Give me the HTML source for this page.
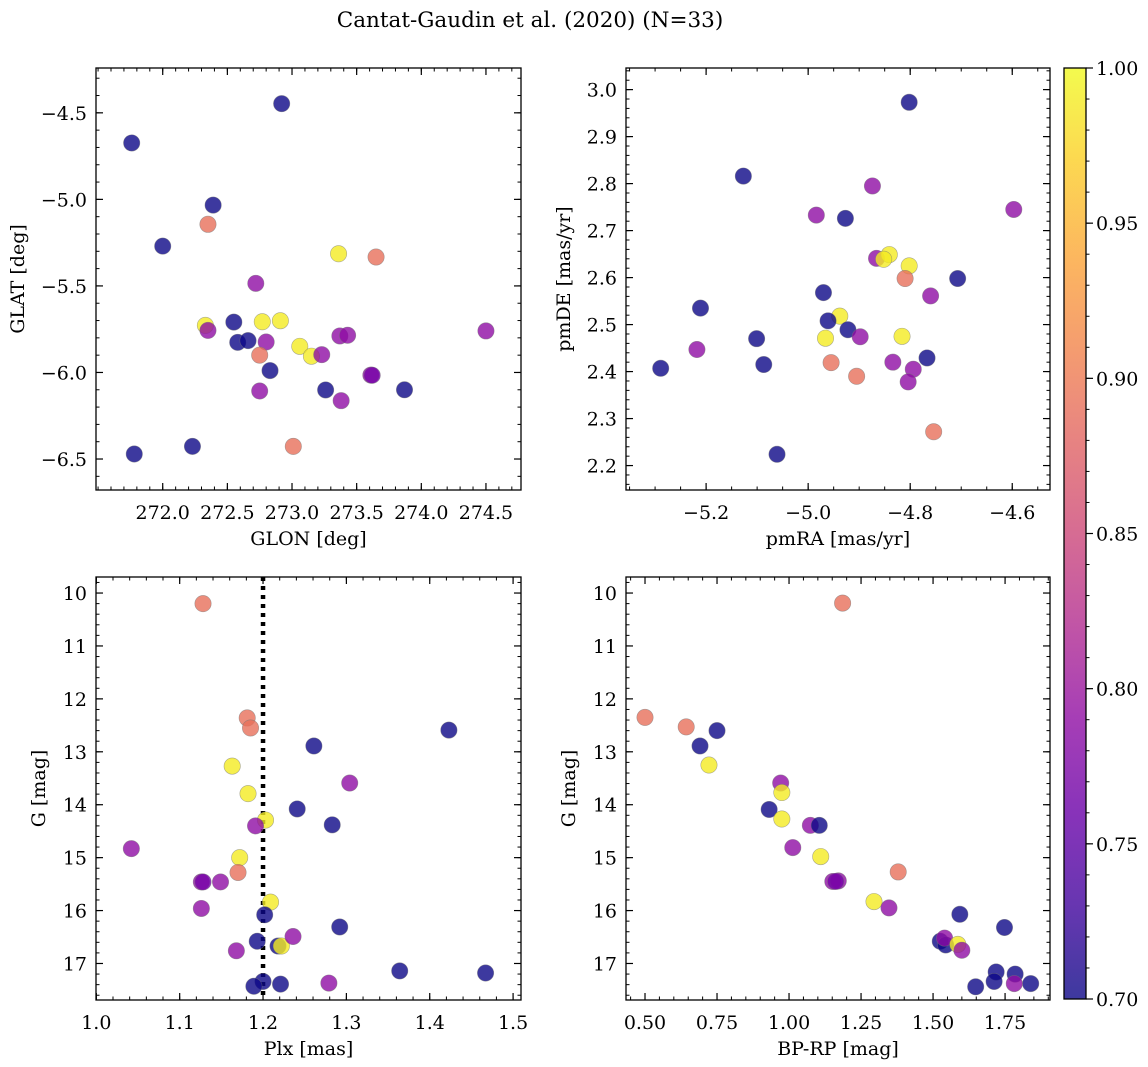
<!DOCTYPE html>
<html><head><meta charset="utf-8"><style>
html,body{margin:0;padding:0;background:#fff;}
svg{display:block;font-family:"DejaVu Serif","Liberation Serif",serif;}
</style></head><body>
<svg id="fig" width="1148" height="1067" viewBox="0 0 1148 1067" xmlns="http://www.w3.org/2000/svg">
<text x="530" y="27" font-size="21.5" text-anchor="middle">Cantat-Gaudin et al. (2020) (N=33)</text>
</svg>
<script>
// ---- Panel 1: GLON / GLAT ----
const glon=[272.92,271.76,272.39,272.35,272.00,273.36,273.65,272.72,272.55,272.77,272.91,272.33,272.35,274.50,273.37,273.43,272.58,272.66,272.80,273.06,273.15,273.23,272.75,272.83,273.61,273.62,273.26,273.87,272.75,273.38,273.01,272.23,271.78];
const glat=[-4.447,-4.674,-5.033,-5.144,-5.270,-5.314,-5.333,-5.485,-5.709,-5.707,-5.701,-5.728,-5.757,-5.760,-5.789,-5.785,-5.826,-5.816,-5.824,-5.849,-5.906,-5.897,-5.900,-5.989,-6.015,-6.016,-6.101,-6.100,-6.107,-6.163,-6.427,-6.427,-6.471];
const c1=[0.70,0.70,0.70,0.89,0.70,0.99,0.89,0.79,0.70,0.99,0.99,0.99,0.79,0.79,0.79,0.79,0.70,0.70,0.79,0.99,0.99,0.79,0.89,0.70,0.79,0.77,0.70,0.70,0.79,0.79,0.89,0.70,0.70];
// ---- Panel 2: pmRA / pmDE ----
const pmra=[-4.802,-5.127,-4.874,-4.597,-4.984,-4.927,-4.866,-4.841,-4.852,-4.802,-4.810,-4.707,-4.760,-4.970,-5.211,-4.938,-4.961,-4.922,-5.101,-4.966,-4.898,-4.816,-5.218,-4.955,-4.834,-5.087,-4.767,-4.794,-5.289,-4.905,-4.804,-4.754,-5.061];
const pmde=[2.973,2.816,2.795,2.745,2.733,2.726,2.641,2.649,2.639,2.625,2.598,2.598,2.561,2.568,2.535,2.518,2.508,2.489,2.470,2.471,2.474,2.475,2.447,2.419,2.420,2.415,2.429,2.405,2.407,2.390,2.378,2.272,2.224];
const c2=[0.70,0.70,0.79,0.79,0.79,0.70,0.79,0.99,0.99,0.99,0.89,0.70,0.79,0.70,0.70,0.99,0.70,0.70,0.70,0.99,0.79,0.99,0.79,0.89,0.79,0.70,0.70,0.79,0.70,0.89,0.79,0.89,0.70];
// ---- Panel 3: Plx / G ----
const plx=[1.128,1.181,1.185,1.163,1.182,1.203,1.191,1.042,1.172,1.170,1.126,1.128,1.149,1.126,1.209,1.202,1.193,1.168,1.218,1.222,1.236,1.200,1.189,1.221,1.423,1.261,1.304,1.241,1.283,1.292,1.279,1.364,1.467];
const g3=[10.20,12.36,12.55,13.27,13.79,14.29,14.40,14.83,15.00,15.28,15.46,15.46,15.46,15.96,15.84,16.08,16.58,16.76,16.67,16.67,16.49,17.34,17.43,17.39,12.59,12.89,13.59,14.08,14.38,16.31,17.37,17.14,17.18];
const c3=[0.89,0.89,0.89,0.99,0.99,0.99,0.79,0.79,0.99,0.89,0.79,0.77,0.79,0.79,0.99,0.70,0.70,0.79,0.70,0.99,0.79,0.70,0.70,0.70,0.70,0.70,0.79,0.70,0.70,0.70,0.79,0.70,0.70];
// ---- Panel 4: BP-RP / G ----
const bprp=[1.186,0.500,0.643,0.750,0.691,0.722,0.971,0.975,0.931,0.975,1.074,1.105,1.013,1.110,1.379,1.152,1.171,1.162,1.295,1.347,1.593,1.748,1.525,1.544,1.540,1.586,1.600,1.719,1.785,1.712,1.648,1.839,1.782];
const g4=[10.19,12.35,12.53,12.60,12.89,13.25,13.59,13.77,14.09,14.27,14.39,14.39,14.81,14.98,15.27,15.45,15.44,15.45,15.83,15.95,16.07,16.32,16.58,16.65,16.52,16.64,16.75,17.16,17.20,17.34,17.44,17.38,17.38];
const c4=[0.89,0.89,0.89,0.70,0.70,0.99,0.79,0.99,0.70,0.99,0.79,0.70,0.79,0.99,0.89,0.79,0.79,0.77,0.99,0.79,0.70,0.70,0.70,0.70,0.79,0.99,0.79,0.70,0.70,0.70,0.70,0.70,0.79];
// tick labels
const p1xt=[272.0,272.5,273.0,273.5,274.0,274.5];
const p1yt=[-4.5,-5.0,-5.5,-6.0,-6.5];
const p2xt=[-5.2,-5.0,-4.8,-4.6];
const p2yt=[2.2,2.3,2.4,2.5,2.6,2.7,2.8,2.9,3.0];
const p3xt=[1.0,1.1,1.2,1.3,1.4,1.5];
const gt=[10,11,12,13,14,15,16,17];
const p4xt=[0.50,0.75,1.00,1.25,1.50,1.75];
const cbt=[0.70,0.75,0.80,0.85,0.90,0.95,1.00];
const plxRef=[1.2];

const FS=19;
const NS="http://www.w3.org/2000/svg";
const svg=document.getElementById('fig');
function mk(tag,attrs,parent){const e=document.createElementNS(NS,tag);for(const k in attrs)e.setAttribute(k,attrs[k]);(parent||svg).appendChild(e);return e;}
const stops=["#0d0887","#41049d","#6a00a8","#8f0da4","#b12a90","#cc4778","#e16462","#f2844b","#fca636","#fcce25","#f0f921"];
function hex(h){return [1,3,5].map(i=>parseInt(h.substr(i,2),16));}
function plasma(t){t=Math.max(0,Math.min(1,t));const f=t*10,i=Math.min(9,Math.floor(f)),r=f-i;const a=hex(stops[i]),b=hex(stops[i+1]);return "rgb("+a.map((v,k)=>Math.round(v+(b[k]-v)*r)).join(",")+")";}
function cmap(v){return plasma((v-0.7)/0.3);}
function fmt(v,d){return (v<0?"\u2212":"")+Math.abs(v).toFixed(d);}

function panel(o){
  const g=mk('g',{});
  
  
  const sx=v=>o.x0+(v-o.xl[0])/(o.xl[1]-o.xl[0])*(o.x1-o.x0);
  const sy=v=>o.y1-(v-o.yl[0])/(o.yl[1]-o.yl[0])*(o.y1-o.y0);
  const xs=Math.min(o.xl[0],o.xl[1]),xe=Math.max(o.xl[0],o.xl[1]);
  for(let v=Math.ceil(xs/o.xm-1e-6)*o.xm;v<=xe+1e-9;v+=o.xm){const X=sx(v);
    mk('line',{x1:X,x2:X,y1:o.y1,y2:o.y1-3.5,stroke:'#000','stroke-width':1},g);
    mk('line',{x1:X,x2:X,y1:o.y0,y2:o.y0+3.5,stroke:'#000','stroke-width':1},g);}
  const ys=Math.min(o.yl[0],o.yl[1]),ye=Math.max(o.yl[0],o.yl[1]);
  for(let v=Math.ceil(ys/o.ym-1e-6)*o.ym;v<=ye+1e-9;v+=o.ym){const Y=sy(v);
    mk('line',{x1:o.x0,x2:o.x0+3.5,y1:Y,y2:Y,stroke:'#000','stroke-width':1},g);
    mk('line',{x1:o.x1,x2:o.x1-3.5,y1:Y,y2:Y,stroke:'#000','stroke-width':1},g);}
  o.xt.forEach(v=>{const X=sx(v);
    mk('line',{x1:X,x2:X,y1:o.y1,y2:o.y1-7,stroke:'#000','stroke-width':1.2},g);
    mk('line',{x1:X,x2:X,y1:o.y0,y2:o.y0+7,stroke:'#000','stroke-width':1.2},g);
    const t=mk('text',{x:X,y:o.y1+29,'font-size':FS,'text-anchor':'middle'},g);t.textContent=fmt(v,o.xd);
    
    });
  o.yt.forEach(v=>{const Y=sy(v);
    mk('line',{x1:o.x0,x2:o.x0+7,y1:Y,y2:Y,stroke:'#000','stroke-width':1.2},g);
    mk('line',{x1:o.x1,x2:o.x1-7,y1:Y,y2:Y,stroke:'#000','stroke-width':1.2},g);
    const t=mk('text',{x:o.x0-9,y:Y+7,'font-size':FS,'text-anchor':'end'},g);t.textContent=fmt(v,o.yd);
    
    });
  if(o.vline){o.vline.forEach(v=>{const l=mk('line',{x1:sx(v),x2:sx(v),y1:o.y0,y2:o.y1,stroke:'#000','stroke-width':4.5,'stroke-dasharray':'4 5'},g);
    
    });}
  const cg=mk('g',{'clip-path':'url(#clip'+o.id+')'},g);
  const cp=mk('clipPath',{id:'clip'+o.id},g);mk('rect',{x:o.x0,y:o.y0,width:o.x1-o.x0,height:o.y1-o.y0},cp);
  o.xv.forEach((v,i)=>{const c=mk('circle',{cx:sx(v),cy:sy(o.yv[i]),r:8.2,fill:cmap(o.cv[i]),'fill-opacity':0.8,stroke:'#777','stroke-opacity':0.6,'stroke-width':0.6},cg);
    
    });
  const r=mk('rect',{x:o.x0,y:o.y0,width:o.x1-o.x0,height:o.y1-o.y0,fill:'none',stroke:'#000','stroke-width':1.3},g);
  
  
  const xl=mk('text',{x:(o.x0+o.x1)/2,y:o.y1+55,'font-size':FS,'text-anchor':'middle'},g);xl.textContent=o.xlab;
  
  
  const yl=mk('text',{x:o.ylx,y:(o.y0+o.y1)/2,'font-size':FS,'text-anchor':'middle',transform:'rotate(-90 '+o.ylx+' '+(o.y0+o.y1)/2+')'},g);yl.textContent=o.ylab;
  
  
}
panel({id:1,name:'panel-glon-glat',x0:96,x1:521,y0:68,y1:490,xl:[271.484,274.771],yl:[-6.679,-4.241],xm:0.1,ym:0.1,xt:p1xt,yt:p1yt,xd:1,yd:1,xv:glon,yv:glat,cv:c1,xlab:'GLON [deg]',ylab:'GLAT [deg]',ylx:24});
panel({id:2,name:'panel-pm',x0:626,x1:1050,y0:68,y1:490,xl:[-5.357,-4.526],yl:[2.148,3.046],xm:0.05,ym:0.02,xt:p2xt,yt:p2yt,xd:1,yd:1,xv:pmra,yv:pmde,cv:c2,xlab:'pmRA [mas/yr]',ylab:'pmDE [mas/yr]',ylx:570});
panel({id:3,name:'panel-plx-g',x0:96,x1:521,y0:577,y1:1000,xl:[0.9996,1.5095],yl:[17.69,9.697],xm:0.02,ym:0.2,xt:p3xt,yt:gt,xd:1,yd:0,xv:plx,yv:g3,cv:c3,xlab:'Plx [mas]',ylab:'G [mag]',ylx:45,vline:plxRef});
panel({id:4,name:'panel-cmd',x0:626,x1:1050,y0:577,y1:1000,xl:[0.434,1.906],yl:[17.69,9.697],xm:0.05,ym:0.2,xt:p4xt,yt:gt,xd:2,yd:0,xv:bprp,yv:g4,cv:c4,xlab:'BP-RP [mag]',ylab:'G [mag]',ylx:575});

// colorbar
const cb=mk('g',{});


const defs=mk('defs',{},cb);
const lg=mk('linearGradient',{id:'cbg',x1:0,y1:1,x2:0,y2:0},defs);
for(let i=0;i<=20;i++){mk('stop',{offset:(i/20),'stop-color':plasma(i/20),'stop-opacity':0.8},lg);}
const cbx0=1064,cbx1=1086,cby0=68,cby1=999;
mk('rect',{x:cbx0,y:cby0,width:cbx1-cbx0,height:cby1-cby0,fill:'url(#cbg)'},cb);
for(let v=0.70;v<=1.0001;v+=0.01){const Y=cby1-(v-0.7)/0.3*(cby1-cby0);mk('line',{x1:cbx1,x2:cbx1+3.5,y1:Y,y2:Y,stroke:'#000','stroke-width':1},cb);}
cbt.forEach(v=>{const Y=cby1-(v-0.7)/0.3*(cby1-cby0);
  mk('line',{x1:cbx1,x2:cbx1+7,y1:Y,y2:Y,stroke:'#000','stroke-width':1.2},cb);
  const t=mk('text',{x:cbx1+10,y:Y+7,'font-size':FS},cb);t.textContent=v.toFixed(2);
  
  });
mk('rect',{x:cbx0,y:cby0,width:cbx1-cbx0,height:cby1-cby0,fill:'none',stroke:'#000','stroke-width':1.3},cb);
</script>
</body></html>
